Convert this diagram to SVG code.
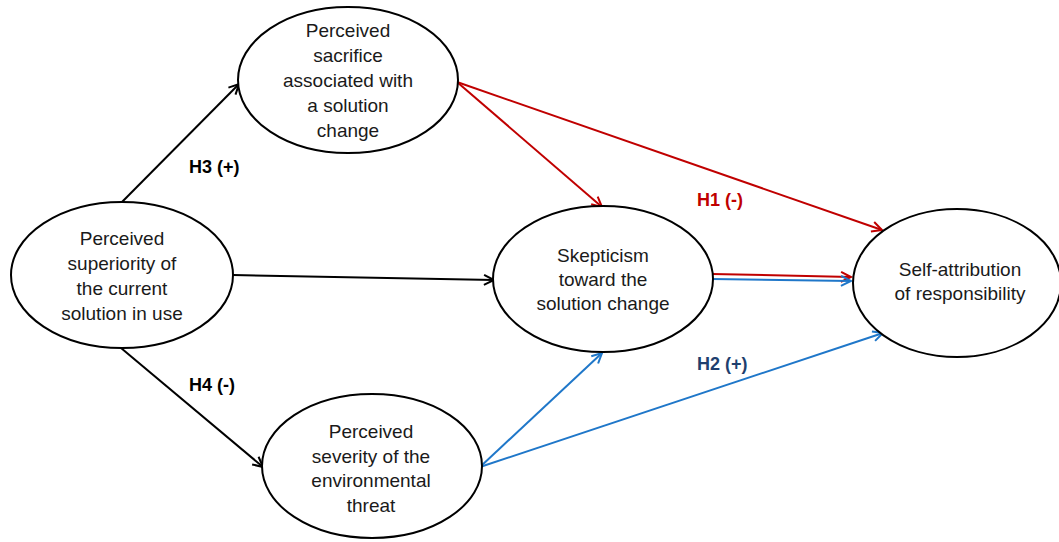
<svg xmlns="http://www.w3.org/2000/svg" width="1059" height="542" viewBox="0 0 1059 542">
<style>
.node ellipse{fill:#fff;stroke:#000;stroke-width:2}
.node text{font-family:"Liberation Sans",Arial,sans-serif;font-size:19px;fill:#1a1a1a;text-anchor:middle}
.lbl{font-family:"Liberation Sans",Arial,sans-serif;font-size:18px;font-weight:bold}
.c{fill:none;stroke-width:2}
.k{stroke:#000}
.r{stroke:#C00000}
.b{stroke:#1F77C9}
</style>
<defs>
<marker id="ak" markerUnits="userSpaceOnUse" markerWidth="14" markerHeight="14" refX="11" refY="6" orient="auto" viewBox="0 0 14 12"><path d="M1,1 L11,6 L1,11" fill="none" stroke="#000" stroke-width="2"/></marker>
<marker id="ar" markerUnits="userSpaceOnUse" markerWidth="14" markerHeight="14" refX="11" refY="6" orient="auto" viewBox="0 0 14 12"><path d="M1,1 L11,6 L1,11" fill="none" stroke="#C00000" stroke-width="2"/></marker>
<marker id="ab" markerUnits="userSpaceOnUse" markerWidth="14" markerHeight="14" refX="11" refY="6" orient="auto" viewBox="0 0 14 12"><path d="M1,1 L11,6 L1,11" fill="none" stroke="#1F77C9" stroke-width="2"/></marker>
</defs>
<rect width="1059" height="542" fill="#fff"/>
<g id="connectors">
<line class="c k" x1="121" y1="203" x2="239" y2="84" marker-end="url(#ak)"/>
<line class="c k" x1="233" y1="275" x2="494" y2="280" marker-end="url(#ak)"/>
<line class="c k" x1="121" y1="348" x2="263" y2="467" marker-end="url(#ak)"/>
<line class="c r" x1="457" y1="82" x2="602" y2="207" marker-end="url(#ar)"/>
<line class="c r" x1="457" y1="82" x2="882" y2="230" marker-end="url(#ar)"/>
<line class="c r" x1="712" y1="274" x2="851" y2="277" marker-end="url(#ar)"/>
<line class="c b" x1="712" y1="279" x2="851" y2="281" marker-end="url(#ab)"/>
<line class="c b" x1="480" y1="467" x2="602" y2="353" marker-end="url(#ab)"/>
<line class="c b" x1="480" y1="467" x2="883" y2="333" marker-end="url(#ab)"/>
</g>
<g id="labels">
<text class="lbl" x="189" y="173" fill="#000">H3 (+)</text>
<text class="lbl" x="189" y="391" fill="#000">H4 (-)</text>
<text class="lbl" x="697" y="206" fill="#C00000">H1 (-)</text>
<text class="lbl" x="697" y="370" fill="#1F3F6E">H2 (+)</text>
</g>
<g id="n-superiority" class="node">
<ellipse cx="122" cy="275" rx="111" ry="73"/>
<text x="122" y="245">Perceived</text>
<text x="122" y="270">superiority of</text>
<text x="122" y="295">the current</text>
<text x="122" y="320">solution in use</text>
</g>
<g id="n-sacrifice" class="node">
<ellipse cx="348" cy="80" rx="110" ry="73"/>
<text x="348" y="37">Perceived</text>
<text x="348" y="62">sacrifice</text>
<text x="348" y="87">associated with</text>
<text x="348" y="112">a solution</text>
<text x="348" y="137">change</text>
</g>
<g id="n-skepticism" class="node">
<ellipse cx="603" cy="279" rx="110" ry="73"/>
<text x="603" y="262">Skepticism</text>
<text x="603" y="286">toward the</text>
<text x="603" y="310">solution change</text>
</g>
<g id="n-severity" class="node">
<ellipse cx="372" cy="466" rx="110" ry="72"/>
<text x="371" y="438">Perceived</text>
<text x="371" y="463">severity of the</text>
<text x="371" y="487">environmental</text>
<text x="371" y="512">threat</text>
</g>
<g id="n-self" class="node">
<ellipse cx="957" cy="283" rx="104" ry="74"/>
<text x="960" y="276">Self-attribution</text>
<text x="960" y="300">of responsibility</text>
</g>
</svg>
